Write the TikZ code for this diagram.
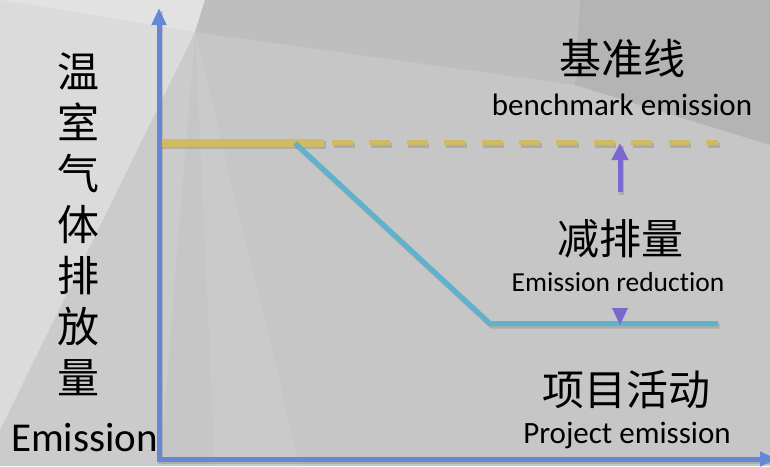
\documentclass[tikz,border=0pt]{standalone}
\usepackage{fontspec}
\setmainfont{Carlito}[Ligatures=NoCommon]
\newfontfamily\cjk{Noto Sans CJK SC}
\usetikzlibrary{arrows.meta}
\definecolor{axisblue}{RGB}{102,136,212}
\definecolor{baseyellow}{RGB}{209,186,100}
\definecolor{projteal}{RGB}{94,178,204}
\definecolor{redpurple}{RGB}{122,104,206}
\definecolor{bgbase}{RGB}{198,198,198}
\definecolor{bglight}{RGB}{219,219,219}
\definecolor{bglighter}{RGB}{226,226,226}
\definecolor{bgmid}{RGB}{190,190,190}
\definecolor{bgdark}{RGB}{180,180,180}
\definecolor{bgwedge}{RGB}{202,202,202}
\definecolor{bgside}{RGB}{203,203,203}
\begin{document}
\begin{tikzpicture}[x=1pt,y=-1pt,
  axisline/.style={draw=axisblue,line width=5pt,line join=miter,
    {Triangle[length=17pt,width=14pt]}-{Triangle[length=17pt,width=14pt]}},
  benchline/.style={draw=baseyellow,line width=8pt},
  benchdash/.style={draw=baseyellow,line width=5pt,dash pattern=on 21pt off 16.4pt,dash phase=29.4pt},
  projline/.style={draw=projteal,line width=5pt,line join=miter},
  redarrow/.style={draw=redpurple,line width=5pt,-{Triangle[length=17pt,width=16pt]}},
  redhead/.style={fill=redpurple},
  dropshadow/.style={draw=black,draw opacity=0.13,transform canvas={shift={(1.5pt,-2.5pt)}}},
  cjktitle/.style={inner sep=0pt,anchor=base,font=\cjk\fontsize{42}{51}\selectfont},
  entitle/.style={inner sep=0pt,anchor=base,font=\fontsize{#1}{#1}\selectfont},
  entitle/.default=30
]
\useasboundingbox (0,0) rectangle (770,466);
\begin{scope}
\clip (0,0) rectangle (770,466);
% background low-poly
\fill[bgbase] (0,0) rectangle (770,466);
\fill[bgside] (195,32) -- (0,430) -- (0,466) -- (160,466) -- cycle;
\fill[bglight] (0,0) -- (205,0) -- (195,32) -- (0,430) -- cycle;
\fill[bglighter] (0,0) -- (205,0) -- (195,32) -- cycle;
\fill[bgwedge] (195,32) -- (215,466) -- (300,466) -- cycle;
\fill[bgmid] (205,0) -- (580,0) -- (575,85) -- (195,32) -- cycle;
\fill[bgdark] (580,0) -- (770,0) -- (770,145) -- (575,85) -- cycle;
\end{scope}
% coordinates
\coordinate (ytop) at (159,8);
\coordinate (origin) at (159,459);
\coordinate (xend) at (777,459);
\coordinate (bstart) at (159,142.5);
\coordinate (bsplit) at (324,142.5);
\coordinate (bend) at (718,142.5);
\coordinate (pstart) at (295,143);
\coordinate (pknee) at (490,323.5);
\coordinate (pend) at (718,323.5);
\coordinate (uptail) at (620,192);
\coordinate (uptip) at (620,143);
% shadows
\draw[dropshadow,line width=8pt] (bstart) -- (bsplit);
\draw[dropshadow,line width=5pt,dash pattern=on 21pt off 16.4pt,dash phase=29.4pt] (bsplit) -- (bend);
\draw[dropshadow,line width=5pt] (pstart) -- (pknee) -- (pend);
\draw[dropshadow,line width=5pt] (ytop) -- (origin) -- (xend);
\draw[dropshadow,line width=5pt] (uptail) -- (uptip);
% lines
\draw[benchline] (bstart) -- (bsplit);
\draw[benchdash] (bsplit) -- (bend);
\draw[projline] (pstart) -- (pknee) -- (pend);
\draw[axisline] (ytop) -- (origin) -- (xend);
\draw[redarrow] (uptail) -- (uptip);
\fill[redhead] (612,308) -- (628,308) -- (620,325) -- cycle;
% texts
\node[cjktitle] (jz) at (622,74) {基准线};
\node[entitle=31] (jzen) at (622,115) {benchmark emission};
\node[cjktitle] (jp) at (620,254) {减排量};
\node[entitle=27.5] (jpen) at (618,291) {Emission reduction};
\node[cjktitle] (xm) at (626,405) {项目活动};
\node[entitle=31] (xmen) at (627,443) {Project emission};
\foreach \c [count=\i] in {温,室,气,体,排,放,量}
  \node[cjktitle] (v\i) at (78,{87+51*(\i-1)}) {\c};
\node[inner sep=0pt,anchor=base west,font=\fontsize{41}{41}\selectfont] (em) at (11,451) {Emission};
\end{tikzpicture}
\end{document}
